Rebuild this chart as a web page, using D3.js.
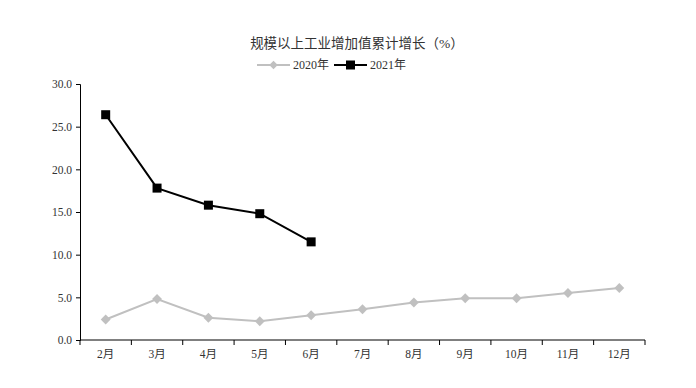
<!DOCTYPE html>
<html>
<head>
<meta charset="utf-8">
<script src="https://cdn.jsdelivr.net/npm/d3@7"></script>
<style>
  body { margin: 0; background: #fff; }
  text { font-family: "Liberation Serif", "Noto Sans CJK SC", serif; fill: #333; }
</style>
</head>
<body>
<script>
const months = ['2月', '3月', '4月', '5月', '6月', '7月', '8月', '9月', '10月', '11月', '12月'];
const values2020 = [2.4, 4.8, 2.6, 2.2, 2.9, 3.6, 4.4, 4.9, 4.9, 5.5, 6.1];
const values2021 = [26.4, 17.8, 15.8, 14.8, 11.5];
const yTicks = [0, 5, 10, 15, 20, 25, 30];

const width = 696, height = 388;
const margin = {top: 84, right: 51, bottom: 48, left: 80};

const svg = d3.select('body').append('svg')
    .attr('width', width)
    .attr('height', height);

const x = d3.scaleBand()
    .domain(months)
    .range([margin.left, width - margin.right]);

const y = d3.scaleLinear()
    .domain([0, 30])
    .range([height - margin.bottom, margin.top]);

// title
svg.append('text')
    .attr('x', 357).attr('y', 48)
    .attr('text-anchor', 'middle')
    .style('font-size', '13.5px')
    .text('规模以上工业增加值累计增长（%）');

// y axis
const yAxis = svg.append('g')
    .attr('transform', `translate(${margin.left},0)`)
    .call(d3.axisLeft(y).tickValues(yTicks).tickSize(4).tickFormat(d3.format('.1f')));
yAxis.selectAll('text').style('font-size', '11.5px').attr('x', -8);
yAxis.select('.domain').attr('stroke', '#000');
yAxis.selectAll('line').attr('stroke', '#000');

// x axis with ticks at band edges
const xAxis = svg.append('g')
    .attr('transform', `translate(0,${y(0)})`);
xAxis.append('line')
    .attr('x1', margin.left).attr('x2', width - margin.right)
    .attr('stroke', '#000');
const edges = months.map(m => x(m)).concat([x(months[months.length - 1]) + x.bandwidth()]);
xAxis.selectAll('.tk').data(edges).enter().append('line')
    .attr('x1', d => d).attr('x2', d => d)
    .attr('y1', 0).attr('y2', 5)
    .attr('stroke', '#000');
xAxis.selectAll('.lbl').data(months).enter().append('text')
    .attr('x', d => x(d) + x.bandwidth() / 2)
    .attr('y', 18)
    .attr('text-anchor', 'middle')
    .style('font-size', '11.5px')
    .text(d => d);

const cx = d => x(d) + x.bandwidth() / 2;
const line = d3.line().x(d => cx(d.m)).y(d => y(d.v));

const data2020 = months.map((m, i) => ({m: m, v: values2020[i]}));
const data2021 = values2021.map((v, i) => ({m: months[i], v: v}));

svg.append('path').datum(data2020)
    .attr('d', line).attr('fill', 'none')
    .attr('stroke', '#c0c0c0').attr('stroke-width', 2);
svg.selectAll('.p2020').data(data2020).enter().append('path')
    .attr('transform', d => `translate(${cx(d.m)},${y(d.v)}) rotate(45)`)
    .attr('d', 'M-3.5,-3.5H3.5V3.5H-3.5Z')
    .attr('fill', '#c0c0c0');

svg.append('path').datum(data2021)
    .attr('d', line).attr('fill', 'none')
    .attr('stroke', '#000').attr('stroke-width', 2);
svg.selectAll('.p2021').data(data2021).enter().append('rect')
    .attr('x', d => cx(d.m) - 4.5).attr('y', d => y(d.v) - 4.5)
    .attr('width', 9).attr('height', 9)
    .attr('fill', '#000');

// legend
const legend = svg.append('g').attr('transform', 'translate(257,65)');
legend.append('line').attr('x1', 0).attr('x2', 33).attr('stroke', '#c0c0c0').attr('stroke-width', 2);
legend.append('path').attr('transform', 'translate(16.5,0) rotate(45)')
    .attr('d', 'M-3,-3H3V3H-3Z').attr('fill', '#c0c0c0');
legend.append('text').attr('x', 36).attr('y', 4).style('font-size', '12px').text('2020年');
legend.append('line').attr('x1', 77).attr('x2', 110).attr('stroke', '#000').attr('stroke-width', 2);
legend.append('rect').attr('x', 89).attr('y', -4.5).attr('width', 9).attr('height', 9).attr('fill', '#000');
legend.append('text').attr('x', 113).attr('y', 4).style('font-size', '12px').text('2021年');
</script>
</body>
</html>
